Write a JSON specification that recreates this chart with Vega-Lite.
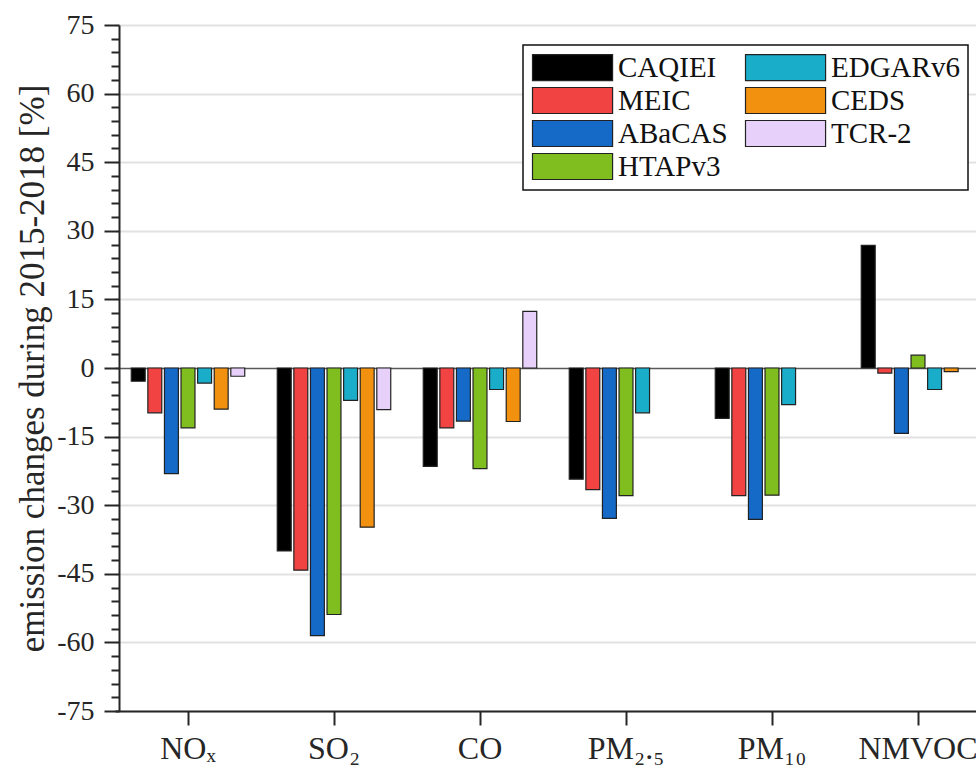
{
  "$schema": "https://vega.github.io/schema/vega-lite/v6.json",
  "width": 876,
  "height": 686,
  "autosize": {"type": "none"},
  "padding": {"left": 115, "top": 25, "right": 0, "bottom": 72},
  "background": "white",
  "data": {
    "values": [
      {"pollutant": "NOₓ", "inventory": "CAQIEI", "change": -2.9},
      {"pollutant": "NOₓ", "inventory": "MEIC", "change": -9.8},
      {"pollutant": "NOₓ", "inventory": "ABaCAS", "change": -23.1},
      {"pollutant": "NOₓ", "inventory": "HTAPv3", "change": -13.1},
      {"pollutant": "NOₓ", "inventory": "EDGARv6", "change": -3.3},
      {"pollutant": "NOₓ", "inventory": "CEDS", "change": -9.0},
      {"pollutant": "NOₓ", "inventory": "TCR-2", "change": -1.8},
      {"pollutant": "SO₂", "inventory": "CAQIEI", "change": -40.0},
      {"pollutant": "SO₂", "inventory": "MEIC", "change": -44.2},
      {"pollutant": "SO₂", "inventory": "ABaCAS", "change": -58.5},
      {"pollutant": "SO₂", "inventory": "HTAPv3", "change": -53.9},
      {"pollutant": "SO₂", "inventory": "EDGARv6", "change": -7.1},
      {"pollutant": "SO₂", "inventory": "CEDS", "change": -34.8},
      {"pollutant": "SO₂", "inventory": "TCR-2", "change": -9.1},
      {"pollutant": "CO", "inventory": "CAQIEI", "change": -21.5},
      {"pollutant": "CO", "inventory": "MEIC", "change": -13.1},
      {"pollutant": "CO", "inventory": "ABaCAS", "change": -11.6},
      {"pollutant": "CO", "inventory": "HTAPv3", "change": -22.0},
      {"pollutant": "CO", "inventory": "EDGARv6", "change": -4.7},
      {"pollutant": "CO", "inventory": "CEDS", "change": -11.7},
      {"pollutant": "CO", "inventory": "TCR-2", "change": 12.4},
      {"pollutant": "PM₂.₅", "inventory": "CAQIEI", "change": -24.3},
      {"pollutant": "PM₂.₅", "inventory": "MEIC", "change": -26.6},
      {"pollutant": "PM₂.₅", "inventory": "ABaCAS", "change": -32.9},
      {"pollutant": "PM₂.₅", "inventory": "HTAPv3", "change": -27.9},
      {"pollutant": "PM₂.₅", "inventory": "EDGARv6", "change": -9.8},
      {"pollutant": "PM₁₀", "inventory": "CAQIEI", "change": -11.0},
      {"pollutant": "PM₁₀", "inventory": "MEIC", "change": -27.9},
      {"pollutant": "PM₁₀", "inventory": "ABaCAS", "change": -33.1},
      {"pollutant": "PM₁₀", "inventory": "HTAPv3", "change": -27.8},
      {"pollutant": "PM₁₀", "inventory": "EDGARv6", "change": -8.0},
      {"pollutant": "NMVOC", "inventory": "CAQIEI", "change": 26.8},
      {"pollutant": "NMVOC", "inventory": "MEIC", "change": -1.1},
      {"pollutant": "NMVOC", "inventory": "ABaCAS", "change": -14.3},
      {"pollutant": "NMVOC", "inventory": "HTAPv3", "change": 2.8},
      {"pollutant": "NMVOC", "inventory": "EDGARv6", "change": -4.7},
      {"pollutant": "NMVOC", "inventory": "CEDS", "change": -0.8}
    ]
  },
  "mark": {"type": "bar", "stroke": "#222222", "strokeWidth": 1.2},
  "encoding": {
    "x": {
      "field": "pollutant",
      "type": "nominal",
      "sort": ["NOₓ", "SO₂", "CO", "PM₂.₅", "PM₁₀", "NMVOC"],
      "scale": {"paddingInner": 0, "paddingOuter": 0},
      "axis": {
        "title": null,
        "labelAngle": 0,
        "labelFont": "Liberation Serif",
        "labelFontSize": 32,
        "labelColor": "#262626",
        "labelPadding": 8,
        "tickSize": 14,
        "tickWidth": 2,
        "tickColor": "#262626",
        "domainWidth": 2,
        "domainColor": "#262626",
        "grid": false
      }
    },
    "xOffset": {
      "field": "inventory",
      "type": "nominal",
      "scale": {
        "domain": ["CAQIEI", "MEIC", "ABaCAS", "HTAPv3", "EDGARv6", "CEDS", "TCR-2"],
        "paddingInner": 0.16,
        "paddingOuter": 0.98
      }
    },
    "y": {
      "field": "change",
      "type": "quantitative",
      "scale": {"domain": [-75, 75], "nice": false, "zero": false},
      "axis": {
        "title": "emission changes during 2015-2018 [%]",
        "titleFont": "Liberation Serif",
        "titleFontSize": 35,
        "titleFontWeight": "normal",
        "titleColor": "#262626",
        "titlePadding": 6,
        "offset": -4,
        "values": [-75,-72,-69,-66,-63,-60,-57,-54,-51,-48,-45,-42,-39,-36,-33,-30,-27,-24,-21,-18,-15,-12,-9,-6,-3,0,3,6,9,12,15,18,21,24,27,30,33,36,39,42,45,48,51,54,57,60,63,66,69,72,75],
        "labelExpr": "datum.value % 15 === 0 ? '' + datum.value : ''",
        "labelFont": "Liberation Serif",
        "labelFontSize": 28,
        "labelColor": "#262626",
        "labelPadding": 10,
        "tickSize": {"expr": "datum.value % 15 === 0 ? 15 : 8"},
        "tickWidth": 2,
        "tickColor": "#262626",
        "domainWidth": 2,
        "domainColor": "#262626",
        "grid": true,
        "gridOpacity": {"expr": "datum.value % 15 === 0 ? 1 : 0"},
        "gridColor": {"expr": "datum.value === 0 ? '#5a5a5a' : '#e2e2e2'"},
        "gridWidth": {"expr": "datum.value === 0 ? 1.5 : 2"}
      }
    },
    "color": {
      "field": "inventory",
      "type": "nominal",
      "scale": {
        "domain": ["CAQIEI", "MEIC", "ABaCAS", "HTAPv3", "EDGARv6", "CEDS", "TCR-2"],
        "range": ["#000000", "#f24343", "#1569c7", "#80bd1e", "#1aadca", "#f2910f", "#e7d1fa"]
      },
      "legend": {
        "title": null,
        "orient": "none",
        "legendX": 408,
        "legendY": 20,
        "columns": 2,
        "columnPadding": 15,
        "rowPadding": 2,
        "padding": 8,
        "fillColor": "white",
        "strokeColor": "#111111",
        "symbolType": "M-1,-1H5.16V1H-1Z",
        "symbolSize": 676,
        "symbolStrokeColor": "#222222",
        "symbolStrokeWidth": 1.2,
        "symbolOpacity": 1,
        "labelFont": "Liberation Serif",
        "labelFontSize": 29,
        "labelColor": "#111111",
        "labelOffset": 58,
        "labelLimit": 300
      }
    }
  },
  "config": {
    "view": {"stroke": null},
    "legend": {"strokeWidth": 1.5}
  }
}
